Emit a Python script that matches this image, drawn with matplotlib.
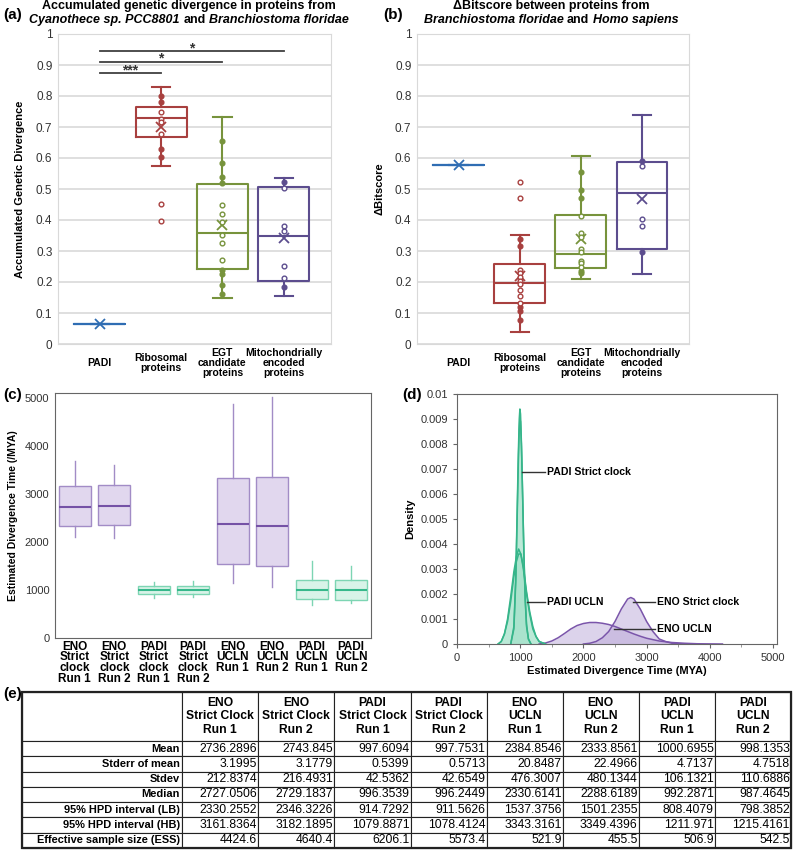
import numpy as np
import matplotlib
matplotlib.use('Agg')
import matplotlib.pyplot as plt
from matplotlib.patches import Rectangle
from matplotlib.ticker import FuncFormatter, MultipleLocator

plt.rcParams['font.family'] = ['Liberation Sans', 'DejaVu Sans']

# ---------------- data ----------------
ab_groups = ['PADI', 'Ribosomal\nproteins', 'EGT\ncandidate\nproteins',
             'Mitochondrially\nencoded\nproteins']
ab_colors = ['#2f6db3', '#a8403f', '#77933c', '#5c4d8e']

# (a) accumulated genetic divergence
a_q1 = [0.066, 0.667, 0.242, 0.203]
a_med = [0.066, 0.729, 0.357, 0.350]
a_q3 = [0.066, 0.766, 0.516, 0.505]
a_lo = [0.066, 0.573, 0.148, 0.155]
a_hi = [0.066, 0.830, 0.733, 0.536]
a_mean = [0.066, 0.700, 0.384, 0.343]
a_points = [
    [],
    [0.800, 0.782, 0.749, 0.726, 0.715, 0.676, 0.628, 0.602, 0.453, 0.397],
    [0.655, 0.585, 0.539, 0.518, 0.448, 0.418, 0.395, 0.353, 0.327, 0.271,
     0.239, 0.226, 0.190, 0.161],
    [0.524, 0.502, 0.381, 0.366, 0.252, 0.212, 0.185],
]
sig_labels = ['***', '*', '*']
sig_targets = [1, 2, 3]

# (b) delta bitscore
b_q1 = [0.576, 0.132, 0.244, 0.306]
b_med = [0.576, 0.196, 0.289, 0.488]
b_q3 = [0.576, 0.257, 0.415, 0.586]
b_lo = [0.576, 0.039, 0.210, 0.227]
b_hi = [0.576, 0.352, 0.607, 0.739]
b_mean = [0.576, 0.220, 0.338, 0.467]
b_points = [
    [],
    [0.521, 0.472, 0.338, 0.315, 0.239, 0.230, 0.215, 0.204, 0.192, 0.174,
     0.156, 0.133, 0.120, 0.108, 0.078],
    [0.556, 0.497, 0.472, 0.414, 0.357, 0.344, 0.306, 0.296, 0.268, 0.260,
     0.247, 0.236, 0.228],
    [0.590, 0.574, 0.403, 0.382, 0.298],
]

# (c)/(e) divergence time runs
runs = ['ENO\nStrict\nclock\nRun 1', 'ENO\nStrict\nclock\nRun 2',
        'PADI\nStrict\nclock\nRun 1', 'PADI\nStrict\nclock\nRun 2',
        'ENO\nUCLN\nRun 1', 'ENO\nUCLN\nRun 2',
        'PADI\nUCLN\nRun 1', 'PADI\nUCLN\nRun 2']
run_headers = ['ENO\nStrict Clock\nRun 1', 'ENO\nStrict Clock\nRun 2',
               'PADI\nStrict Clock\nRun 1', 'PADI\nStrict Clock\nRun 2',
               'ENO\nUCLN\nRun 1', 'ENO\nUCLN\nRun 2',
               'PADI\nUCLN\nRun 1', 'PADI\nUCLN\nRun 2']
run_is_eno = [True, True, False, False, True, True, False, False]
mean_v = [2736.2896, 2743.845, 997.6094, 997.7531, 2384.8546, 2333.8561, 1000.6955, 998.1353]
stderr_v = [3.1995, 3.1779, 0.5399, 0.5713, 20.8487, 22.4966, 4.7137, 4.7518]
stdev_v = [212.8374, 216.4931, 42.5362, 42.6549, 476.3007, 480.1344, 106.1321, 110.6886]
median_v = [2727.0506, 2729.1837, 996.3539, 996.2449, 2330.6141, 2288.6189, 992.2871, 987.4645]
hpd_lb = [2330.2552, 2346.3226, 914.7292, 911.5626, 1537.3756, 1501.2355, 808.4079, 798.3852]
hpd_hb = [3161.8364, 3182.1895, 1079.8871, 1078.4124, 3343.3161, 3349.4396, 1211.971, 1215.4161]
ess_v = [4424.6, 4640.4, 6206.1, 5573.4, 521.9, 455.5, 506.9, 542.5]
whisk_lo = [2097, 2077, 833, 861, 1139, 1069, 688, 722]
whisk_hi = [3687, 3604, 1160, 1181, 4868, 5014, 1611, 1506]
row_names = ['Mean', 'Stderr of mean', 'Stdev', 'Median', '95% HPD interval (LB)',
             '95% HPD interval (HB)', 'Effective sample size (ESS)']

# (d) posterior densities
padi_sc_x = [850, 900, 930, 950, 970, 985, 995, 1005, 1020, 1040, 1060, 1080, 1100, 1130, 1170]
padi_sc1_y = [0, 0.0007, 0.0027, 0.0051, 0.0076, 0.0090, 0.0094, 0.0092, 0.0080, 0.0057,
              0.0034, 0.0017, 0.0007, 0.0002, 0]
padi_sc2_y = [0, 0.0006, 0.0025, 0.0048, 0.0072, 0.0086, 0.0090, 0.0089, 0.0079, 0.0058,
              0.0035, 0.0018, 0.0008, 0.0002, 0]
padi_ucln_x = [650, 700, 750, 800, 850, 900, 940, 975, 1010, 1050, 1100, 1150, 1200, 1250, 1300, 1400]
padi_ucln1_y = [0, 0.0001, 0.0004, 0.0010, 0.0019, 0.0029, 0.0035, 0.0038, 0.0036, 0.0030,
                0.0020, 0.0012, 0.0006, 0.0003, 0.0001, 0]
padi_ucln2_y = [0, 0.0001, 0.0004, 0.0009, 0.0017, 0.0027, 0.0033, 0.0036, 0.0036, 0.0031,
                0.0021, 0.0013, 0.0007, 0.0003, 0.0001, 0]
eno_sc_x = [2000, 2100, 2200, 2300, 2400, 2500, 2600, 2700, 2750, 2800, 2900, 3000, 3100,
            3200, 3300, 3400, 3600]
eno_sc_y = [0, 0.00003, 0.0001, 0.00025, 0.0005, 0.0009, 0.0014, 0.0018, 0.00186, 0.0018,
            0.0014, 0.0009, 0.0005, 0.0002, 0.0001, 0.00003, 0]
eno_ucln_x = [1300, 1400, 1500, 1600, 1700, 1800, 1900, 2000, 2100, 2200, 2300, 2400, 2500,
              2600, 2700, 2800, 2900, 3000, 3200, 3400, 3600, 3800, 4200]
eno_ucln_y = [0, 0.00004, 0.00012, 0.00025, 0.00042, 0.0006, 0.00074, 0.00082, 0.00086,
              0.00086, 0.00083, 0.00078, 0.0007, 0.0006, 0.0005, 0.0004, 0.00031, 0.00023,
              0.00012, 0.00006, 0.00003, 0.00001, 0]

# ---------------- figure ----------------
W, H = 795, 850
fig = plt.figure(figsize=(W / 100, H / 100), dpi=100)


def px_axes(l, t, r, b):
    return fig.add_axes([l / W, 1 - b / H, (r - l) / W, (b - t) / H])


def rich_line(xc, yc, pieces, size=9):
    # centre a line made of bold / bold-italic pieces
    r = fig.canvas.get_renderer()
    gap = 0.278 * size * 100 / 72
    texts = [fig.text(0, 1 - yc / H, s, fontsize=size, fontweight='bold',
                      fontstyle=st, va='center', ha='left') for s, st in pieces]
    widths = [t.get_window_extent(r).width for t in texts]
    total = sum(widths) + gap * (len(texts) - 1)
    x = xc - total / 2
    for t, w in zip(texts, widths):
        t.set_x(x / W)
        x += w + gap


def box_panel(ax, q1, med, q3, lo, hi, mean, points, ylabel):
    for i in range(4):
        c = ab_colors[i]
        st = dict(q1=q1[i], med=med[i], q3=q3[i], whislo=lo[i], whishi=hi[i],
                  mean=mean[i], fliers=[])
        ax.bxp([st], positions=[i], widths=0.83, capwidths=0.3, showmeans=True,
               showfliers=False, manage_ticks=False,
               boxprops=dict(color=c, lw=1.5), medianprops=dict(color=c, lw=1.5),
               whiskerprops=dict(color=c, lw=1.5), capprops=dict(color=c, lw=1.5),
               meanprops=dict(marker='x', markeredgecolor=c, markersize=7, mew=1.3))
        pts = np.array(points[i])
        if len(pts):
            filled = ((pts > q3[i]) | (pts < q1[i])) & (pts >= lo[i]) & (pts <= hi[i])
            ax.plot(np.full(filled.sum(), i), pts[filled], 'o', ms=3.4, mfc=c, mec=c,
                    mew=1, zorder=4)
            ax.plot(np.full((~filled).sum(), i), pts[~filled], 'o', ms=3.4, mfc='white',
                    mec=c, mew=1, zorder=4)
    ax.set_ylim(0, 1)
    ax.set_xlim(-0.68, 3.77)
    ax.set_yticks(np.arange(0, 1.01, 0.1))
    ax.yaxis.set_major_formatter(FuncFormatter(lambda v, p: '%g' % round(v, 2)))
    ax.yaxis.grid(True, color='#d9d9d9', lw=1.2)
    ax.set_axisbelow(True)
    for s in ax.spines.values():
        s.set_color('#d9d9d9')
    ax.set_xticks(range(4))
    ax.set_xticklabels(ab_groups, fontweight='bold', fontsize=7.5, linespacing=1.0)
    for lbl in ax.get_xticklabels():
        lbl.set_va('center')
    ax.tick_params(axis='x', length=0, pad=13.5)
    ax.tick_params(axis='y', length=0, labelsize=8.5, labelcolor='#333333', pad=4)
    ax.set_ylabel(ylabel, fontweight='bold', fontsize=8)


# ---- (a)
ax_a = px_axes(58, 34, 331, 344)
box_panel(ax_a, a_q1, a_med, a_q3, a_lo, a_hi, a_mean, a_points,
          'Accumulated Genetic Divergence')
ax_a.yaxis.set_label_coords(-0.121, 0.5)
sig_y = [0.873, 0.911, 0.945]
for lab, tgt, yy in zip(sig_labels, sig_targets, sig_y):
    ax_a.plot([0, tgt], [yy, yy], color='#404040', lw=1.3)
    ax_a.text(tgt / 2, yy - 0.003, lab, ha='center', va='baseline', fontsize=10,
              fontweight='bold', color='#333333')
rich_line(189, 6, [('Accumulated genetic divergence in proteins from', 'normal')])
rich_line(189, 20, [('Cyanothece sp. PCC8801', 'italic'), ('and', 'normal'),
                    ('Branchiostoma floridae', 'italic')])

# ---- (b)
ax_b = px_axes(417, 34, 689, 344)
box_panel(ax_b, b_q1, b_med, b_q3, b_lo, b_hi, b_mean, b_points, '\u0394Bitscore')
ax_b.yaxis.set_label_coords(-0.118, 0.5)
rich_line(551, 6, [('\u0394Bitscore between proteins from', 'normal')])
rich_line(551, 20, [('Branchiostoma floridae', 'italic'), ('and', 'normal'),
                    ('Homo sapiens', 'italic')])

# ---- (c)
ax_c = px_axes(55, 393, 371, 638)
for i in range(8):
    if run_is_eno[i]:
        fill, edge, mc = '#e1d7ee', '#a28cc6', '#7552a6'
    else:
        fill, edge, mc = '#d8f3e8', '#7dd5b3', '#36b88b'
    st = dict(q1=hpd_lb[i], med=mean_v[i], q3=hpd_hb[i], whislo=whisk_lo[i],
              whishi=whisk_hi[i], fliers=[])
    ax_c.bxp([st], positions=[i], widths=0.8, patch_artist=True, showcaps=False,
             showfliers=False, manage_ticks=False,
             boxprops=dict(facecolor=fill, edgecolor=edge, lw=1),
             medianprops=dict(color=mc, lw=1.5),
             whiskerprops=dict(color=edge, lw=1))
ax_c.set_xlim(-0.5, 7.5)
ax_c.set_ylim(0, 5104)
ax_c.set_yticks([0, 1000, 2000, 3000, 4000, 5000])
ax_c.set_xticks(range(8))
ax_c.set_xticklabels(runs, fontweight='bold', fontsize=8.5, linespacing=0.85)
ax_c.tick_params(axis='x', length=0, pad=2)
ax_c.tick_params(axis='y', length=0, labelsize=8, labelcolor='#333333', pad=4)
for s in ax_c.spines.values():
    s.set_color('#666666')
ax_c.set_ylabel('Estimated Divergence Time (/MYA)', fontweight='bold', fontsize=7.5)
ax_c.yaxis.set_label_coords(-0.117, 0.5)

# ---- (d)
ax_d = px_axes(457, 394, 777, 644)
green_l, green_f = '#36b58a', '#a6e3cb'
purple_l, purple_f = '#7a55aa', '#bba8d8'
curves = [(eno_ucln_x, eno_ucln_y, purple_l, purple_f),
          (eno_sc_x, eno_sc_y, purple_l, purple_f),
          (padi_ucln_x, padi_ucln1_y, green_l, green_f),
          (padi_ucln_x, padi_ucln2_y, green_l, green_f),
          (padi_sc_x, padi_sc1_y, green_l, green_f),
          (padi_sc_x, padi_sc2_y, green_l, green_f)]
for xs, ys, lc, fc in curves:
    ax_d.fill_between(xs, ys, color=fc, alpha=0.5, lw=0)
    ax_d.plot(xs, ys, color=lc, lw=1.1)
ax_d.set_xlim(0, 5063)
ax_d.set_ylim(0, 0.01)
ax_d.set_yticks(np.arange(0, 0.01001, 0.001))
ax_d.yaxis.set_major_formatter(FuncFormatter(lambda v, p: '%g' % round(v, 4)))
ax_d.set_xticks([0, 1000, 2000, 3000, 4000, 5000])
ax_d.xaxis.set_minor_locator(MultipleLocator(500))
ax_d.tick_params(axis='both', which='major', length=3, width=0.8, color='#666666',
                 labelsize=8, labelcolor='#333333')
ax_d.tick_params(axis='x', which='minor', length=2, width=0.6, color='#888888')
for s in ax_d.spines.values():
    s.set_color('#666666')
ax_d.set_ylabel('Density', fontweight='bold', fontsize=8)
ax_d.yaxis.set_label_coords(-0.131, 0.5)
ax_d.set_xlabel('Estimated Divergence Time (MYA)', fontweight='bold', fontsize=8, labelpad=2)
annots = [('PADI Strict clock', 1030, 0.0069, 1400, 0.0069),
          ('PADI UCLN', 1110, 0.00168, 1400, 0.00168),
          ('ENO Strict clock', 2780, 0.00168, 3140, 0.00168),
          ('ENO UCLN', 2480, 0.0006, 3140, 0.0006)]
for lab, x0, y0, x1, y1 in annots:
    ax_d.plot([x0, x1], [y0, y1], color='#333333', lw=1)
    ax_d.text(x1 + 30, y1, lab, fontsize=7.6, fontweight='bold', va='center', ha='left')

# ---- (e) table
ax_e = px_axes(22, 692, 791, 848)
ax_e.axis('off')
cells = [[''] + run_headers]
for name, vals in zip(row_names, [mean_v, stderr_v, stdev_v, median_v, hpd_lb, hpd_hb, ess_v]):
    cells.append([name] + [str(v) for v in vals])
tbl = ax_e.table(cellText=cells, bbox=[0, 0, 1, 1], cellLoc='right',
                 colWidths=[160] + [76] * 8)
tbl.auto_set_font_size(False)
tbl.set_fontsize(8.7)
for (r, c), cell in tbl.get_celld().items():
    cell.PAD = 0.015
    cell.set_linewidth(0.8)
    cell.set_edgecolor('#222222')
    cell.set_height(3.2 if r == 0 else 1.0)
    if r == 0:
        cell.get_text().set_ha('center')
        cell._loc = 'center'
        cell.get_text().set_fontweight('bold')
    if c == 0:
        cell.get_text().set_fontweight('bold')
        cell.get_text().set_fontsize(7.9)
ax_e.add_patch(Rectangle((0, 0), 1, 1, transform=ax_e.transAxes, fill=False,
                         lw=1.6, edgecolor='#222222', clip_on=False))

# panel labels
for lab, x, y in [('(a)', 3, 15), ('(b)', 383, 15), ('(c)', 3, 395), ('(d)', 402, 395),
                  ('(e)', 3, 694)]:
    fig.text(x / W, 1 - y / H, lab, fontsize=11, fontweight='bold', va='center', ha='left')

fig.savefig('out.png', dpi=100)
